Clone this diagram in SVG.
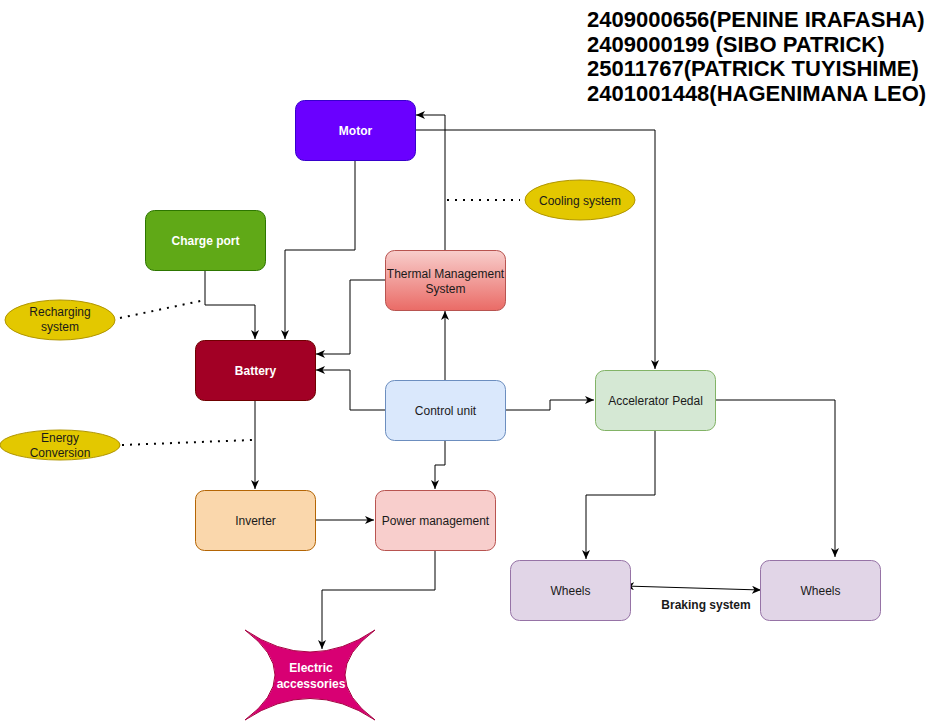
<svg xmlns="http://www.w3.org/2000/svg" width="936" height="721" viewBox="0 0 936 721">
<style>
  .lbl{font-family:"Liberation Sans",Arial,sans-serif;font-size:12px;text-anchor:middle;fill:#1a1a1a}
  .wb{fill:#ffffff;font-weight:bold}
  .edge{fill:none;stroke:#000;stroke-width:1}
  .dot{fill:none;stroke:#000;stroke-width:2;stroke-dasharray:2 6}
  .title{font-family:"Liberation Sans",Arial,sans-serif;font-size:22px;font-weight:bold;fill:#000}
</style>
<defs>
  <marker id="arr" markerWidth="10" markerHeight="8" refX="9" refY="4" orient="auto" markerUnits="userSpaceOnUse">
    <path d="M0,0 L9,4 L0,8 L2.5,4 Z" fill="#000"/>
  </marker>
  <marker id="arrS" markerWidth="10" markerHeight="8" refX="1" refY="4" orient="auto" markerUnits="userSpaceOnUse">
    <path d="M10,0 L1,4 L10,8 L7.5,4 Z" fill="#000"/>
  </marker>
  <linearGradient id="tg" x1="0" y1="0" x2="0" y2="1">
    <stop offset="0" stop-color="#f8cecc"/>
    <stop offset="1" stop-color="#ea6b66"/>
  </linearGradient>
</defs>
<rect width="936" height="721" fill="#ffffff"/>

<g id="connectors">
  <path class="edge" d="M355,160 V250 H285 V339" marker-end="url(#arr)"/>
  <path class="edge" d="M205,270 V305 H255 V339" marker-end="url(#arr)"/>
  <path class="edge" d="M385,280 H350 V354 H316" marker-end="url(#arr)"/>
  <path class="edge" d="M385,410 H350 V370 H316" marker-end="url(#arr)"/>
  <path class="edge" d="M445,380 V311" marker-end="url(#arr)"/>
  <path class="edge" d="M445,250 V115 H416" marker-end="url(#arr)"/>
  <path class="edge" d="M415,130 H655 V369" marker-end="url(#arr)"/>
  <path class="edge" d="M505,410 H550 V400 H594" marker-end="url(#arr)"/>
  <path class="edge" d="M445,440 V465 H435 V489" marker-end="url(#arr)"/>
  <path class="edge" d="M315,520 H374" marker-end="url(#arr)"/>
  <path class="edge" d="M255,400 V489" marker-end="url(#arr)"/>
  <path class="edge" d="M435,550 V590 H322 V649" marker-end="url(#arr)"/>
  <path class="edge" d="M655,430 V495 H586 V559" marker-end="url(#arr)"/>
  <path class="edge" d="M715,400 H835 V557" marker-end="url(#arr)"/>
  <path class="edge" d="M625,586 L761,590" marker-start="url(#arrS)" marker-end="url(#arr)"/>
  <path class="dot" d="M447,200 H520"/>
  <path class="dot" d="M120,318 L205,300"/>
  <path class="dot" d="M122,445 L252,440"/>
  <text class="lbl" x="706" y="609" style="font-weight:bold">Braking system</text>
</g>

<g id="motor">
  <rect x="295.5" y="100.5" width="120" height="60" rx="9" fill="#6a00ff" stroke="#3700cc"/>
  <text class="lbl wb" x="355.5" y="135">Motor</text>
</g>
<g id="charge-port">
  <rect x="145.5" y="210.5" width="120" height="60" rx="9" fill="#60a917" stroke="#2d7600"/>
  <text class="lbl wb" x="205.5" y="245">Charge port</text>
</g>
<g id="battery">
  <rect x="195.5" y="340.5" width="120" height="60" rx="9" fill="#a20025" stroke="#6f0000"/>
  <text class="lbl wb" x="255.5" y="375">Battery</text>
</g>
<g id="thermal">
  <rect x="385.5" y="250.5" width="120" height="60" rx="9" fill="url(#tg)" stroke="#b85450"/>
  <text class="lbl" x="445.5" y="278">Thermal Management</text>
  <text class="lbl" x="445.5" y="293">System</text>
</g>
<g id="control-unit">
  <rect x="385.5" y="380.5" width="120" height="60" rx="9" fill="#dae8fc" stroke="#6c8ebf"/>
  <text class="lbl" x="445.5" y="415">Control unit</text>
</g>
<g id="accelerator">
  <rect x="595.5" y="370.5" width="120" height="60" rx="9" fill="#d5e8d4" stroke="#82b366"/>
  <text class="lbl" x="655.5" y="405">Accelerator Pedal</text>
</g>
<g id="inverter">
  <rect x="195.5" y="490.5" width="120" height="60" rx="9" fill="#fad7ac" stroke="#b46504"/>
  <text class="lbl" x="255.5" y="525">Inverter</text>
</g>
<g id="power-management">
  <rect x="375.5" y="490.5" width="120" height="60" rx="9" fill="#f8cecc" stroke="#b85450"/>
  <text class="lbl" x="435.5" y="525">Power management</text>
</g>
<g id="wheels-1">
  <rect x="510.5" y="560.5" width="120" height="60" rx="9" fill="#e1d5e7" stroke="#9673a6"/>
  <text class="lbl" x="570.5" y="595">Wheels</text>
</g>
<g id="wheels-2">
  <rect x="760.5" y="560.5" width="120" height="60" rx="9" fill="#e1d5e7" stroke="#9673a6"/>
  <text class="lbl" x="820.5" y="595">Wheels</text>
</g>
<g id="electric-accessories">
  <path d="M245,630 Q310,674 375,630 Q315,675 375,720 Q310,677 245,720 Q305,675 245,630 Z" fill="#d80073" stroke="#a50040"/>
  <text class="lbl wb" x="311" y="672">Electric</text>
  <text class="lbl wb" x="311" y="688">accessories</text>
</g>
<g id="cooling-system">
  <ellipse cx="580" cy="200" rx="55" ry="20" fill="#e3c800" stroke="#b09500"/>
  <text class="lbl" x="580" y="205">Cooling system</text>
</g>
<g id="recharging-system">
  <ellipse cx="60" cy="320" rx="55" ry="20" fill="#e3c800" stroke="#b09500"/>
  <text class="lbl" x="60" y="316">Recharging</text>
  <text class="lbl" x="60" y="331">system</text>
</g>
<g id="energy-conversion">
  <ellipse cx="60" cy="445" rx="60" ry="15" fill="#e3c800" stroke="#b09500"/>
  <text class="lbl" x="60" y="442">Energy</text>
  <text class="lbl" x="60" y="457">Conversion</text>
</g>

<g id="names">
  <text class="title" x="587" y="27">2409000656(PENINE IRAFASHA)</text>
  <text class="title" x="587" y="51.5">2409000199 (SIBO PATRICK)</text>
  <text class="title" x="587" y="76">25011767(PATRICK TUYISHIME)</text>
  <text class="title" x="587" y="100.5">2401001448(HAGENIMANA LEO)</text>
</g>
</svg>
